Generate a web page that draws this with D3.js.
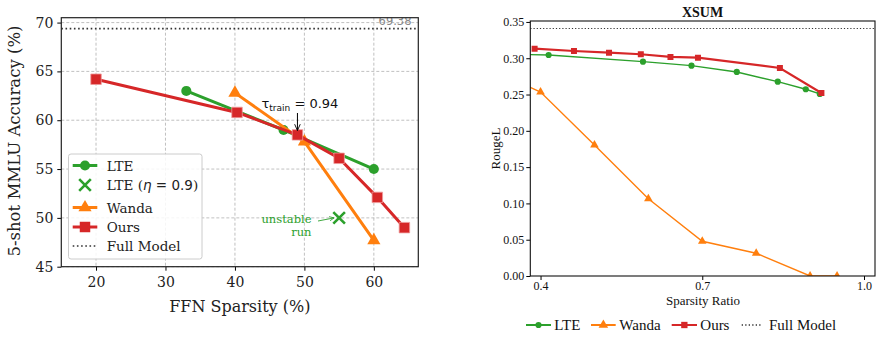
<!DOCTYPE html>
<html>
<head>
<meta charset="utf-8">
<script src="https://cdn.jsdelivr.net/npm/d3@7"></script>
<style>
  body { margin: 0; background: #fff; }
  svg { display: block; }
</style>
</head>
<body>
<div id="chart"></div>
<script>
// ---- Left panel data (MMLU) ----
const lteSparsity = [33, 47, 60];
const lteAcc = [63.0, 59.0, 55.0];
const lteEtaSparsity = [55];
const lteEtaAcc = [50.0];
const wandaSparsity = [40, 50, 60];
const wandaAcc = [62.8, 57.8, 47.7];
const oursSparsity = [20, 40.3, 49, 55, 60.5, 64.4];
const oursAcc = [64.2, 60.8, 58.5, 56.1, 52.1, 49.0];
const fullModelAcc = 69.38;
const leftXTicks = [20, 30, 40, 50, 60];
const leftYTicks = [45, 50, 55, 60, 65, 70];

// ---- Right panel data (XSUM) ----
const xsumLteRatio = [0.30, 0.415, 0.59, 0.68, 0.764, 0.84, 0.892, 0.918];
const xsumLteRouge = [0.306, 0.3045, 0.2953, 0.2898, 0.2811, 0.2677, 0.2573, 0.2508];
const xsumWandaRatio = [0.30, 0.40, 0.50, 0.60, 0.70, 0.80, 0.90, 0.95];
const xsumWandaRouge = [0.287, 0.2535, 0.1805, 0.1065, 0.0478, 0.0313, 0.0, 0.0];
const xsumOursRatio = [0.389, 0.462, 0.527, 0.586, 0.641, 0.692, 0.844, 0.921];
const xsumOursRouge = [0.3132, 0.3100, 0.3077, 0.3055, 0.3018, 0.3008, 0.2866, 0.2522];
const xsumFullModel = 0.341;
const rightXTicks = [0.4, 0.7, 1.0];
const rightYTicks = [0, 0.05, 0.10, 0.15, 0.20, 0.25, 0.30, 0.35];

const GREEN = "#2ca02c", ORANGE = "#ff7f0e", RED = "#d62728";
const zip = (xs, ys) => xs.map((x, i) => ({x: x, y: ys[i]}));

const svg = d3.select("#chart").append("svg")
    .attr("width", 882).attr("height", 337);

// ================= LEFT PANEL =================
const L = {left: 61.3, right: 418.3, top: 17.7, bottom: 266.7};
const lx = d3.scaleLinear().domain([15, 66.4]).range([L.left, L.right]);
const ly = d3.scaleLinear().domain([45, 70.5]).range([L.bottom, L.top]);
const serif = "DejaVu Serif";

const left = svg.append("g");
left.append("clipPath").attr("id", "clipL").append("rect")
    .attr("x", L.left).attr("y", L.top)
    .attr("width", L.right - L.left).attr("height", L.bottom - L.top);

// grid
const gridL = left.append("g").attr("stroke", "#b0b0b0").attr("stroke-width", 0.8)
    .attr("stroke-dasharray", "3,2");
gridL.selectAll(".gx").data(leftXTicks).enter().append("line")
    .attr("x1", d => lx(d)).attr("x2", d => lx(d)).attr("y1", L.top).attr("y2", L.bottom);
gridL.selectAll(".gy").data(leftYTicks).enter().append("line")
    .attr("y1", d => ly(d)).attr("y2", d => ly(d)).attr("x1", L.left).attr("x2", L.right);

// axes
const lxAxis = left.append("g").attr("transform", `translate(0,${L.bottom})`)
    .call(d3.axisBottom(lx).tickValues(leftXTicks).tickSize(4).tickPadding(6));
const lyAxis = left.append("g").attr("transform", `translate(${L.left},0)`)
    .call(d3.axisLeft(ly).tickValues(leftYTicks).tickSize(4).tickPadding(4));
[lxAxis, lyAxis].forEach(a => {
    a.select(".domain").remove();
    a.selectAll("line").attr("stroke", "#000").attr("stroke-width", 1);
    a.selectAll("text").attr("font-family", serif).attr("font-size", 14).attr("fill", "#222");
});

const plotL = left.append("g").attr("clip-path", "url(#clipL)");

// full model line
plotL.append("line")
    .attr("x1", L.left).attr("x2", L.right)
    .attr("y1", ly(fullModelAcc)).attr("y2", ly(fullModelAcc))
    .attr("stroke", "#333").attr("stroke-width", 1.6).attr("stroke-dasharray", "1.6,2.6");
plotL.append("text")
    .attr("x", 411.5).attr("y", 24.5).attr("text-anchor", "end")
    .attr("font-family", "DejaVu Sans").attr("font-size", 11.5).attr("fill", "#888")
    .text(fullModelAcc.toFixed(2));

const lineL = d3.line().x(d => lx(d.x)).y(d => ly(d.y));

function drawSeriesL(pts, color, shape) {
    plotL.append("path").datum(pts).attr("d", lineL)
        .attr("fill", "none").attr("stroke", color).attr("stroke-width", 3)
        .attr("stroke-linejoin", "round");
    const sym = d3.symbol().type(shape).size(shape === d3.symbolSquare ? 110 : shape === d3.symbolTriangle ? 75 : 80);
    plotL.selectAll(null).data(pts).enter().append("path")
        .attr("d", sym)
        .attr("transform", d => `translate(${lx(d.x)},${ly(d.y)})`)
        .attr("fill", color)
        .attr("stroke", shape === d3.symbolSquare ? "#ef9a9b" : color)
        .attr("stroke-width", shape === d3.symbolSquare ? 0.8 : 0);
}
drawSeriesL(zip(lteSparsity, lteAcc), GREEN, d3.symbolCircle);
drawSeriesL(zip(wandaSparsity, wandaAcc), ORANGE, d3.symbolTriangle);
drawSeriesL(zip(oursSparsity, oursAcc), RED, d3.symbolSquare);

// LTE (eta = 0.9) cross
plotL.selectAll(null).data(zip(lteEtaSparsity, lteEtaAcc)).enter().append("path")
    .attr("d", d3.symbol().type(d3.symbolX).size(90))
    .attr("transform", d => `translate(${lx(d.x)},${ly(d.y)})`)
    .attr("fill", "none").attr("stroke", GREEN).attr("stroke-width", 2.6);

// unstable run annotation
const unst = left.append("text").attr("font-family", serif).attr("font-size", 11.5)
    .attr("fill", GREEN).attr("text-anchor", "end");
unst.append("tspan").attr("x", 311.5).attr("y", 222.5).text("unstable");
unst.append("tspan").attr("x", 311.5).attr("y", 235.5).text("run");
left.append("defs").html(
    `<marker id="arrG" viewBox="0 0 10 10" refX="9" refY="5" markerWidth="6" markerHeight="6" orient="auto">
       <path d="M0,1 L9,5 L0,9" fill="none" stroke="${GREEN}" stroke-width="1.5"/></marker>
     <marker id="arrK" viewBox="0 0 10 10" refX="9" refY="5" markerWidth="7" markerHeight="7" orient="auto">
       <path d="M0,1 L9,5 L0,9" fill="none" stroke="#000" stroke-width="1.3"/></marker>`);
left.append("line")
    .attr("x1", 318).attr("y1", 221).attr("x2", lx(lteEtaSparsity[0]) - 5).attr("y2", ly(lteEtaAcc[0]))
    .attr("stroke", GREEN).attr("stroke-width", 0.9).attr("marker-end", "url(#arrG)");

// tau annotation
const tau = left.append("text").attr("font-family", "DejaVu Sans").attr("font-size", 13)
    .attr("fill", "#111").attr("x", 261.5).attr("y", 108);
tau.append("tspan").text("τ");
tau.append("tspan").attr("font-size", 9).attr("dy", 3).text("train");
tau.append("tspan").attr("dy", -3).text(" = 0.94");
left.append("line")
    .attr("x1", lx(oursSparsity[2])).attr("x2", lx(oursSparsity[2]))
    .attr("y1", 113).attr("y2", 130.5)
    .attr("stroke", "#000").attr("stroke-width", 1).attr("marker-end", "url(#arrK)");

// spines
left.append("rect").attr("x", L.left).attr("y", L.top)
    .attr("width", L.right - L.left).attr("height", L.bottom - L.top)
    .attr("fill", "none").attr("stroke", "#222").attr("stroke-width", 1.2);

// labels
left.append("text").attr("x", (L.left + L.right) / 2).attr("y", 312)
    .attr("text-anchor", "middle").attr("font-family", serif).attr("font-size", 16)
    .attr("fill", "#222").text("FFN Sparsity (%)");
left.append("text").attr("transform", `translate(19.5,141) rotate(-90)`)
    .attr("text-anchor", "middle").attr("font-family", serif).attr("font-size", 16.5)
    .attr("fill", "#222").text("5-shot MMLU Accuracy (%)");

// legend
const legL = left.append("g");
legL.append("rect").attr("x", 68.5).attr("y", 154).attr("width", 133.5).attr("height", 105)
    .attr("rx", 2.5).attr("fill", "#fff").attr("fill-opacity", 0.85)
    .attr("stroke", "#ccc").attr("stroke-width", 1);
const legItemsL = [
    {label: "LTE", color: GREEN, shape: d3.symbolCircle, line: true, y: 165.5},
    {label: "LTE (η = 0.9)", color: GREEN, shape: d3.symbolX, line: false, y: 185},
    {label: "Wanda", color: ORANGE, shape: d3.symbolTriangle, line: true, y: 207.5},
    {label: "Ours", color: RED, shape: d3.symbolSquare, line: true, y: 227},
    {label: "Full Model", color: "#333", shape: null, line: true, y: 246}
];
legItemsL.forEach(it => {
    if (it.line) {
        legL.append("line").attr("x1", 72.7).attr("x2", 97.3).attr("y1", it.y).attr("y2", it.y)
            .attr("stroke", it.color)
            .attr("stroke-width", it.shape ? 3 : 1.6)
            .attr("stroke-dasharray", it.shape ? null : "1.6,2.6");
    }
    if (it.shape === d3.symbolX) {
        legL.append("path").attr("d", d3.symbol().type(d3.symbolX).size(90))
            .attr("transform", `translate(85,${it.y})`)
            .attr("fill", "none").attr("stroke", it.color).attr("stroke-width", 2.6);
    } else if (it.shape) {
        const size = it.shape === d3.symbolSquare ? 110 : it.shape === d3.symbolTriangle ? 75 : 80;
        legL.append("path").attr("d", d3.symbol().type(it.shape).size(size))
            .attr("transform", `translate(85,${it.y})`).attr("fill", it.color);
    }
    const t = legL.append("text").attr("x", 106.7).attr("y", it.y + 5)
        .attr("font-family", serif).attr("font-size", 13.5).attr("fill", "#222");
    if (it.label.includes("η")) {
        t.append("tspan").text("LTE (");
        t.append("tspan").attr("font-family", "DejaVu Sans").attr("font-style", "italic").text("η");
        t.append("tspan").attr("font-family", "DejaVu Sans").text(" = 0.9");
        t.append("tspan").text(")");
    } else {
        t.text(it.label);
    }
});

// ================= RIGHT PANEL =================
const R = {left: 530.3, right: 875, top: 21, bottom: 276};
const rx = d3.scaleLinear().domain([0.381, 1.0204]).range([R.left, R.right]);
const ry = d3.scaleLinear().domain([0, 0.3513]).range([R.bottom, R.top]);
const times = "Liberation Serif";

const right = svg.append("g");
right.append("clipPath").attr("id", "clipR").append("rect")
    .attr("x", R.left).attr("y", R.top)
    .attr("width", R.right - R.left).attr("height", R.bottom - R.top);

const rxAxis = right.append("g").attr("transform", `translate(0,${R.bottom})`)
    .call(d3.axisBottom(rx).tickValues(rightXTicks).tickFormat(d3.format(".1f")).tickSize(4).tickPadding(1));
const ryAxis = right.append("g").attr("transform", `translate(${R.left},0)`)
    .call(d3.axisLeft(ry).tickValues(rightYTicks).tickFormat(d3.format(".2f")).tickSize(4).tickPadding(2));
[rxAxis, ryAxis].forEach(a => {
    a.select(".domain").remove();
    a.selectAll("line").attr("stroke", "#000").attr("stroke-width", 1);
    a.selectAll("text").attr("font-family", times).attr("font-size", 12).attr("fill", "#111");
});

const plotR = right.append("g").attr("clip-path", "url(#clipR)");
plotR.append("line")
    .attr("x1", R.left).attr("x2", R.right)
    .attr("y1", ry(xsumFullModel)).attr("y2", ry(xsumFullModel))
    .attr("stroke", "#333").attr("stroke-width", 1.2).attr("stroke-dasharray", "1.2,2");

const lineR = d3.line().x(d => rx(d.x)).y(d => ry(d.y));
function drawSeriesR(pts, color, shape, width, size) {
    plotR.append("path").datum(pts).attr("d", lineR)
        .attr("fill", "none").attr("stroke", color).attr("stroke-width", width);
    plotR.selectAll(null).data(pts).enter().append("path")
        .attr("d", d3.symbol().type(shape).size(size))
        .attr("transform", d => `translate(${rx(d.x)},${ry(d.y)})`)
        .attr("fill", color);
}
drawSeriesR(zip(xsumWandaRatio, xsumWandaRouge), ORANGE, d3.symbolTriangle, 1.4, 32);
drawSeriesR(zip(xsumLteRatio, xsumLteRouge), GREEN, d3.symbolCircle, 1.4, 30);
drawSeriesR(zip(xsumOursRatio, xsumOursRouge), RED, d3.symbolSquare, 2.2, 36);

right.append("rect").attr("x", R.left).attr("y", R.top)
    .attr("width", R.right - R.left).attr("height", R.bottom - R.top)
    .attr("fill", "none").attr("stroke", "#111").attr("stroke-width", 1.1);

right.append("text").attr("x", 702.5).attr("y", 16.5).attr("text-anchor", "middle")
    .attr("font-family", times).attr("font-weight", "bold").attr("font-size", 14)
    .attr("fill", "#111").text("XSUM");
right.append("text").attr("x", 703).attr("y", 304.5).attr("text-anchor", "middle")
    .attr("font-family", times).attr("font-size", 13).attr("fill", "#111").text("Sparsity Ratio");
right.append("text").attr("transform", `translate(500,${(R.top + R.bottom) / 2}) rotate(-90)`)
    .attr("text-anchor", "middle").attr("font-family", times).attr("font-size", 13)
    .attr("fill", "#111").text("RougeL");

// bottom legend
const legItemsR = [
    {label: "LTE", color: GREEN, shape: d3.symbolCircle, x1: 526, x2: 551, tx: 554.3, size: 30},
    {label: "Wanda", color: ORANGE, shape: d3.symbolTriangle, x1: 591, x2: 615.7, tx: 619.3, size: 40},
    {label: "Ours", color: RED, shape: d3.symbolSquare, x1: 671.7, x2: 697, tx: 700.3, size: 40},
    {label: "Full Model", color: "#333", shape: null, x1: 741.7, x2: 762.7, tx: 769, size: 0}
];
const legR = right.append("g");
const legY = 325;
legItemsR.forEach(it => {
    legR.append("line").attr("x1", it.x1).attr("x2", it.x2).attr("y1", legY).attr("y2", legY)
        .attr("stroke", it.color).attr("stroke-width", it.shape ? 2 : 1.3)
        .attr("stroke-dasharray", it.shape ? null : "1.3,2.2");
    if (it.shape) {
        legR.append("path").attr("d", d3.symbol().type(it.shape).size(it.size))
            .attr("transform", `translate(${(it.x1 + it.x2) / 2},${legY})`).attr("fill", it.color);
    }
    legR.append("text").attr("x", it.tx).attr("y", legY + 5)
        .attr("font-family", times).attr("font-size", 15).attr("fill", "#111").text(it.label);
});
</script>
</body>
</html>
